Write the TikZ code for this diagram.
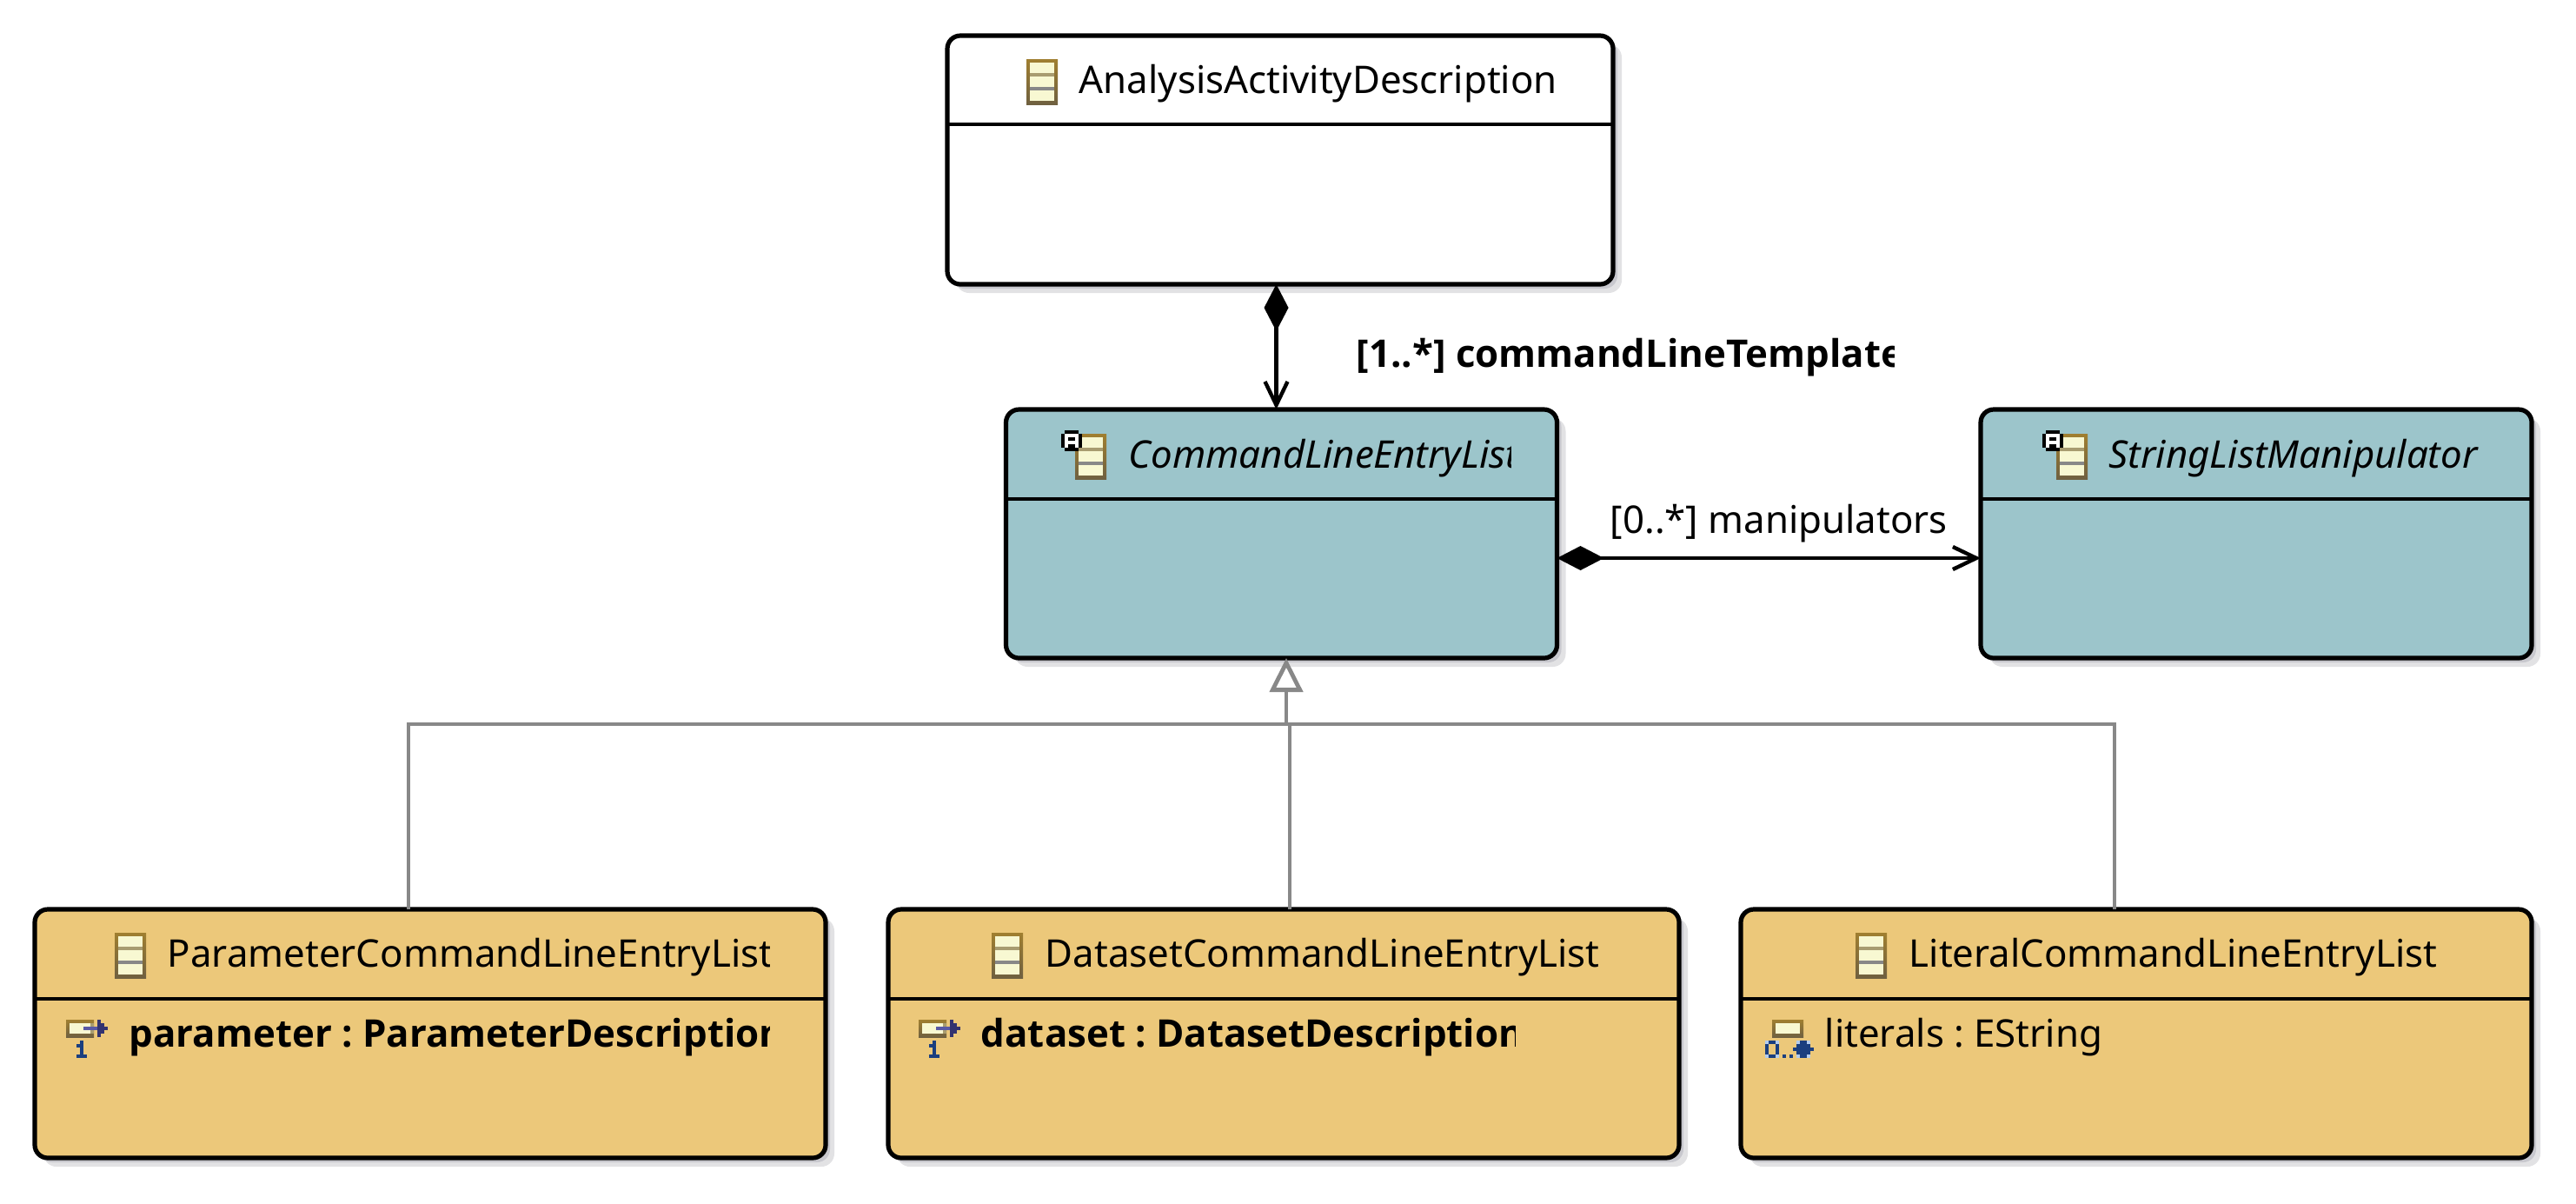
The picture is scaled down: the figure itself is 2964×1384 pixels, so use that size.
\documentclass[tikz,border=0pt]{standalone}
\usepackage{fontspec}
\setmainfont{Noto Sans}
\newfontfamily\labelbold{Open Sans}
\usetikzlibrary{arrows.meta,shadows}
\frenchspacing

\definecolor{tealfill}{HTML}{9CC5CB}
\definecolor{amberfill}{HTML}{ECC87A}
\definecolor{shadowdark}{HTML}{C8C8CE}
\definecolor{shadowlight}{HTML}{E2E2E4}
\definecolor{iconcream}{HTML}{F8F8D2}
\definecolor{iconedgetop}{HTML}{A07F30}
\definecolor{iconedgebot}{HTML}{6F6040}
\definecolor{icontan}{HTML}{A89C70}
\definecolor{linkgray}{HTML}{888888}
\definecolor{multblue}{HTML}{1B3F7F}
\definecolor{multlight}{HTML}{B4CCEC}

\tikzset{
    classbox/.style={rectangle, rounded corners=3.75pt, draw=black, line width=1.3pt,
        drop shadow={shadow xshift=2.5pt, shadow yshift=-2.5pt, fill=shadowlight, opacity=1},
        drop shadow={shadow xshift=1.25pt, shadow yshift=-1.25pt, fill=shadowdark, opacity=1},
        inner sep=0pt, outer sep=0pt, minimum height=71.5pt},
    topbox/.style={classbox, fill=white, minimum width=191.5pt},
    abstractbox/.style={classbox, fill=tealfill, minimum width=158.5pt},
    concretebox/.style={classbox, fill=amberfill, minimum width=227.5pt},
    divider/.style={line width=1.2pt, draw=black},
    plaintext/.style={inner sep=0pt, anchor=base west, font=\fontsize{10.95}{13}\selectfont},
    boldtext/.style={plaintext, font=\fontsize{10.95}{13}\selectfont\labelbold\bfseries},
    slanttext/.style={plaintext, font=\fontsize{10.95}{13}\selectfont\itshape},
    composition/.style={line width=1.1pt, {Diamond[length=13.5pt, width=7pt]}-{Straight Barb[length=6.75pt, width=6.5pt]}},
    inherit/.style={draw=linkgray, line width=1.2pt, -{Triangle[open, fill=white, length=9.75pt, width=9.5pt]}},
    busline/.style={draw=linkgray, line width=1.2pt},
    classicon/.pic={
        \shade[top color=iconedgetop, bottom color=iconedgebot] (-18,-26) rectangle (18,26);
        \fill[iconcream] (-14,-22) rectangle (14,22);
        \fill[icontan] (-14,-10) rectangle (14,-6);
        \fill[linkgray] (-14,6) rectangle (14,10);
    },
    abstracticon/.pic={
        \pic at (0,0) {classicon};
        \fill[black] (-30,-30) rectangle (-14,-26);
        \fill[black] (-34,-26) rectangle (-10,-10);
        \fill[black] (-30,-10) rectangle (-14,-6);
        \fill[white] (-30,-26) rectangle (-14,-10);
        \fill[black] (-26,-22) rectangle (-18,-18);
        \fill[black] (-26,-14) rectangle (-18,-10);
    },
    refattr/.pic={
        \shade[top color=iconedgetop, bottom color=iconedgebot] (-16,-10) rectangle (16,10);
        \fill[iconcream] (-12,-6) rectangle (12,6);
        \fill[icontan] (12,-6) rectangle (16,6);
        \fill[blue!30!gray] (4,-2) rectangle (20,2);
        \fill[black!60!blue!60!gray] (20,-10) rectangle (24,10);
        \fill[black!60!blue!60!gray] (24,-6) rectangle (28,6);
        \fill[black!60!blue!60!gray] (28,-2) rectangle (32,2);
        \fill[multblue] (-4,30) rectangle (8,34);
        \fill[multblue] (0,14) rectangle (4,30);
        \fill[multblue] (-4,18) rectangle (0,22);
    },
    listattr/.pic={
        \shade[top color=iconedgetop, bottom color=iconedgebot] (-18,-10) rectangle (18,10);
        \fill[iconcream] (-14,-6) rectangle (14,6);
        \fill[multlight] (-26,14) rectangle (-10,34);
        \fill[amberfill] (-22,18) rectangle (-14,30);
        \fill[multblue] (-22,14) rectangle (-14,18);
        \fill[multblue] (-22,30) rectangle (-14,34);
        \fill[multblue] (-26,18) rectangle (-22,30);
        \fill[multblue] (-14,18) rectangle (-10,30);
        \fill[multblue] (-6,30) rectangle (-2,34);
        \fill[multblue] (2,30) rectangle (6,34);
        \fill[multlight] (10,14) rectangle (26,34);
        \fill[multblue] (14,14) rectangle (22,34);
        \fill[multblue] (10,18) rectangle (26,30);
        \fill[multblue] (6,22) rectangle (30,26);
    },
}

\begin{document}
\begin{tikzpicture}[x=.25pt, y=-.25pt]
    \useasboundingbox (0,0) rectangle (2964,1384);

    % class boxes
    \node[topbox] (analysis) at (1473, 184) {};
    \node[abstractbox] (cmdlist) at (1474.5, 614) {};
    \node[abstractbox] (manip) at (2596, 614) {};
    \node[concretebox] (paramlist) at (495, 1189) {};
    \node[concretebox] (datalist) at (1477, 1189) {};
    \node[concretebox] (litlist) at (2458, 1189) {};

    \draw[divider] (analysis.west |- 0,143) -- (analysis.east |- 0,143);
    \draw[divider] (cmdlist.west |- 0,574) -- (cmdlist.east |- 0,574);
    \draw[divider] (manip.west |- 0,574) -- (manip.east |- 0,574);
    \draw[divider] (paramlist.west |- 0,1149) -- (paramlist.east |- 0,1149);
    \draw[divider] (datalist.west |- 0,1149) -- (datalist.east |- 0,1149);
    \draw[divider] (litlist.west |- 0,1149) -- (litlist.east |- 0,1149);

    % titles
    \pic at (1199, 94) {classicon};
    \node[plaintext] (analysistitle) at (1241, 107) {AnalysisActivityDescription};

    \pic at (1255, 525) {abstracticon};
    \begin{scope}
        \clip (1296, 490) rectangle (1738, 560);
        \node[slanttext] (cmdtitle) at (1298, 538) {CommandLineEntryList};
    \end{scope}

    \pic at (2384, 525) {abstracticon};
    \node[slanttext] (maniptitle) at (2426, 538) {StringListManipulator};

    \pic at (150, 1099) {classicon};
    \begin{scope}
        \clip (190, 1060) rectangle (885, 1135);
        \node[plaintext] (paramtitle) at (192, 1112) {ParameterCommandLineEntryList};
    \end{scope}

    \pic at (1159, 1099) {classicon};
    \node[plaintext] (datatitle) at (1202, 1112) {DatasetCommandLineEntryList};

    \pic at (2153, 1099) {classicon};
    \node[plaintext] (littitle) at (2196, 1112) {LiteralCommandLineEntryList};

    % attributes
    \pic at (92, 1183) {refattr};
    \begin{scope}
        \clip (146, 1165) rectangle (885, 1225);
        \node[boldtext] (paramattr) at (148, 1204) {parameter : ParameterDescription};
    \end{scope}

    \pic at (1073, 1183) {refattr};
    \begin{scope}
        \clip (1126, 1165) rectangle (1743, 1225);
        \node[boldtext] (dataattr) at (1128, 1204) {dataset : DatasetDescription};
    \end{scope}

    \pic at (2057, 1183) {listattr};
    \node[plaintext] (litattr) at (2099, 1204) {literals : EString};

    % compositions
    \draw[composition] ([xshift=-1.125pt]analysis.south) -- ([xshift=-1.5pt]cmdlist.north);
    \begin{scope}
        \clip (1557, 380) rectangle (2179, 445);
        \node[boldtext] (templatelabel) at (1560, 422) {[1..*] commandLineTemplate};
    \end{scope}

    \draw[composition] ([yshift=-7pt]cmdlist.east) -- ([yshift=-7pt]manip.west);
    \node[plaintext] (maniplabel) at (1852, 613) {[0..*] manipulators};

    % inheritance
    \coordinate (bus) at (1480, 833);
    \draw[inherit] (bus) -- ([xshift=1.375pt]cmdlist.south);
    \draw[busline] ([xshift=-6.25pt]paramlist.north) |- (bus);
    \draw[busline] ([xshift=1.75pt]datalist.north) |- (bus);
    \draw[busline] ([xshift=-6.25pt]litlist.north) |- (bus);
\end{tikzpicture}
\end{document}
